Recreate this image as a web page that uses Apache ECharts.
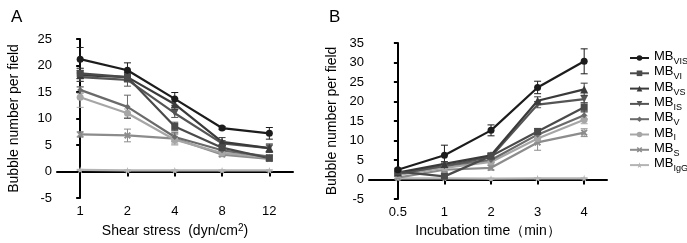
<!DOCTYPE html>
<html>
<head>
<meta charset="utf-8">
<script src="https://cdn.jsdelivr.net/npm/echarts@6/dist/echarts.min.js"></script>
<style>
  html, body { margin: 0; padding: 0; background: #fff; }
  #chart { width: 687px; height: 243px; }
</style>
</head>
<body>
<div id="chart"></div>
<script>
// categories
const shearLabels = ['1', '2', '4', '8', '12'];
const timeLabels = ['0.5', '1', '2', '3', '4'];
const seriesNames = ['VIS', 'VI', 'VS', 'IS', 'V', 'I', 'S', 'IgG'];

// panel A: bubble number vs shear stress (mean, error)
const shearVIS = [21.2, 19.1, 13.7, 8.2, 7.2];
const shearVIS_err = [2.2, 1.4, 1.2, 0.3, 1.1];
const shearVI = [18.5, 17.8, 8.5, 4.5, 2.5];
const shearVI_err = [1.0, 0.8, 0.8, 0.4, 0.5];
const shearVS = [18.2, 17.8, 12.7, 5.6, 4.4];
const shearVS_err = [1.2, 0.9, 1.0, 0.8, 0.8];
const shearIS = [17.8, 17.3, 11.0, 5.3, 4.4];
const shearIS_err = [0.8, 1.2, 0.8, 0.5, 0.6];
const shearV = [15.4, 12.2, 6.5, 4.0, 2.8];
const shearV_err = [0.6, 2.2, 0.9, 0.4, 0.4];
const shearI = [14.0, 11.0, 6.0, 3.5, 2.6];
const shearI_err = [1.9, 0.8, 1.0, 0.4, 0.4];
const shearS = [7.0, 6.8, 6.2, 3.2, 2.4];
const shearS_err = [0.5, 1.2, 1.0, 0.4, 0.3];
const shearIgG = [0.3, 0.2, 0.2, 0.2, 0.2];
const shearIgG_err = [0.1, 0.1, 0.1, 0.1, 0.1];

// panel B: bubble number vs incubation time (mean, error)
const timeVIS = [2.5, 6.2, 12.6, 23.6, 30.3];
const timeVIS_err = [0.4, 2.6, 1.4, 1.6, 3.2];
const timeVI = [2.0, 0.8, 6.0, 12.3, 18.5];
const timeVI_err = [0.4, 0.8, 0.6, 0.8, 1.2];
const timeVS = [1.8, 4.0, 6.2, 20.2, 23.1];
const timeVS_err = [0.3, 0.6, 0.6, 1.0, 1.6];
const timeIS = [1.5, 3.5, 5.8, 19.2, 20.6];
const timeIS_err = [0.3, 0.5, 0.6, 0.8, 1.0];
const timeV = [1.5, 3.5, 5.0, 11.5, 16.5];
const timeV_err = [0.3, 0.5, 0.6, 1.0, 1.0];
const timeI = [1.2, 3.0, 4.5, 10.5, 15.3];
const timeI_err = [0.3, 0.5, 0.6, 1.0, 1.0];
const timeS = [0.5, 2.5, 3.0, 9.5, 12.0];
const timeS_err = [0.3, 0.6, 0.6, 2.0, 1.0];
const timeIgG = [0.3, 0.3, 0.2, 0.3, 0.3];
const timeIgG_err = [0.1, 0.1, 0.1, 0.1, 0.1];

const shearData = [shearVIS, shearVI, shearVS, shearIS, shearV, shearI, shearS, shearIgG];
const shearErr = [shearVIS_err, shearVI_err, shearVS_err, shearIS_err, shearV_err, shearI_err, shearS_err, shearIgG_err];
const timeData = [timeVIS, timeVI, timeVS, timeIS, timeV, timeI, timeS, timeIgG];
const timeErr = [timeVIS_err, timeVI_err, timeVS_err, timeIS_err, timeV_err, timeI_err, timeS_err, timeIgG_err];

const colors = ['#1c1c1c', '#4a4a4a', '#3a3a3a', '#555555', '#6a6a6a', '#a6a6a6', '#8c8c8c', '#b4b4b4'];
const symbols = [
  'circle',
  'rect',
  'triangle',
  'path://M0,0L10,0L5,9Z',
  'diamond',
  'circle',
  'path://M2,0L5,3L8,0L10,2L7,5L10,8L8,10L5,7L2,10L0,8L3,5L0,2Z',
  'path://M5,0L6.2,3.5L10,3.6L7,5.9L8.1,9.5L5,7.4L1.9,9.5L3,5.9L0,3.6L3.8,3.5Z',
];
const symbolSizes = [7, 7, 8, 7, 6, 7, 7, 7];

const font = 'Liberation Sans, Arial, sans-serif';

function errorBar(params, api) {
  const x = api.value(0);
  const y = api.value(1);
  const e = api.value(2);
  const top = api.coord([x, y + e]);
  const bot = api.coord([x, y - e]);
  const style = { stroke: api.visual('color'), lineWidth: 1 };
  return {
    type: 'group',
    children: [
      { type: 'line', shape: { x1: top[0], y1: top[1], x2: bot[0], y2: bot[1] }, style },
      { type: 'line', shape: { x1: top[0] - 3.5, y1: top[1], x2: top[0] + 3.5, y2: top[1] }, style },
      { type: 'line', shape: { x1: bot[0] - 3.5, y1: bot[1], x2: bot[0] + 3.5, y2: bot[1] }, style },
    ],
  };
}

const series = [];
[[shearData, shearErr, 0], [timeData, timeErr, 1]].forEach(([data, err, idx]) => {
  // draw light series first so black sits on top
  for (let i = seriesNames.length - 1; i >= 0; i -= 1) {
    series.push({
      type: 'custom',
      xAxisIndex: idx,
      yAxisIndex: idx,
      renderItem: errorBar,
      itemStyle: { color: colors[i] },
      data: data[i].map((v, j) => [j, v, err[i][j]]),
      z: 2,
      silent: true,
    });
    series.push({
      name: seriesNames[i],
      type: 'line',
      xAxisIndex: idx,
      yAxisIndex: idx,
      data: data[i].map((v, j) => [j, v]),
      symbol: symbols[i],
      symbolSize: symbolSizes[i],
      showAllSymbol: true,
      color: colors[i],
      lineStyle: { width: 2.2, color: colors[i] },
      itemStyle: { color: colors[i] },
      z: 3,
    });
  }
});

function xAxisCfg(idx, labels, min, max, name) {
  return {
    type: 'value',
    gridIndex: idx,
    min,
    max,
    name,
    nameLocation: 'middle',
    nameGap: 24,
    nameTextStyle: { fontFamily: font, fontSize: 14, color: '#000', rich: {
      a: { fontFamily: font, fontSize: 14, color: '#000' },
      sup: { fontFamily: font, fontSize: 10, color: '#000', verticalAlign: 'top', padding: [0, 0, 6, 0] },
    } },
    splitLine: { show: false },
    axisLine: { lineStyle: { color: '#000', width: 2 } },
    axisTick: { customValues: [0, 1, 2, 3, 4], length: 5, lineStyle: { color: '#000', width: 2 } },
    axisLabel: {
      customValues: [0, 1, 2, 3, 4],
      formatter: (v) => labels[Math.round(v)],
      fontFamily: font, fontSize: 13, color: '#000', margin: 7,
    },
  };
}

function yAxisCfg(idx, max, gap) {
  return {
    type: 'value',
    gridIndex: idx,
    min: -5,
    max,
    interval: 5,
    name: 'Bubble number per field',
    nameLocation: 'middle',
    nameGap: gap,
    nameTextStyle: { fontFamily: font, fontSize: 14, color: '#000' },
    splitLine: { show: false },
    axisLine: { show: true, lineStyle: { color: '#000', width: 2 } },
    axisTick: { show: true, length: 4, lineStyle: { color: '#000', width: 2 } },
    axisLabel: { fontFamily: font, fontSize: 13, color: '#000', margin: 5 },
  };
}

const option = {
  animation: false,
  backgroundColor: '#fff',
  title: [
    { text: 'A', left: 6, top: 4, textStyle: { fontFamily: font, fontSize: 17, fontWeight: 'normal', color: '#000' } },
    { text: 'B', left: 324, top: 4, textStyle: { fontFamily: font, fontSize: 17, fontWeight: 'normal', color: '#000' } },
  ],
  grid: [
    { left: 57, right: 394, top: 39, bottom: 45 },
    { left: 369, right: 80, top: 43, bottom: 44 },
  ],
  xAxis: [
    xAxisCfg(0, shearLabels, -0.49, 4.5, '{a|Shear stress  (dyn/cm}{sup|2}{a|)}'),
    xAxisCfg(1, timeLabels, -0.62, 4.49, '{a|Incubation time（min）}'),
  ],
  yAxis: [yAxisCfg(0, 25, 36), yAxisCfg(1, 35, 30)],
  legend: {
    data: seriesNames,
    orient: 'vertical',
    left: 624,
    top: 45,
    itemWidth: 19,
    itemHeight: 7,
    itemGap: -0.7,
    formatter: (n) => `{m|MB}{s|${n}}`,
    textStyle: {
      fontFamily: font,
      color: '#000',
      rich: {
        m: { fontFamily: font, fontSize: 13, color: '#000', lineHeight: 13, verticalAlign: 'top' },
        s: { fontFamily: font, fontSize: 9, color: '#000', lineHeight: 16, verticalAlign: 'bottom' },
      },
    },
  },
  series,
};

const myChart = echarts.init(document.getElementById('chart'));
myChart.setOption(option);
</script>
</body>
</html>
